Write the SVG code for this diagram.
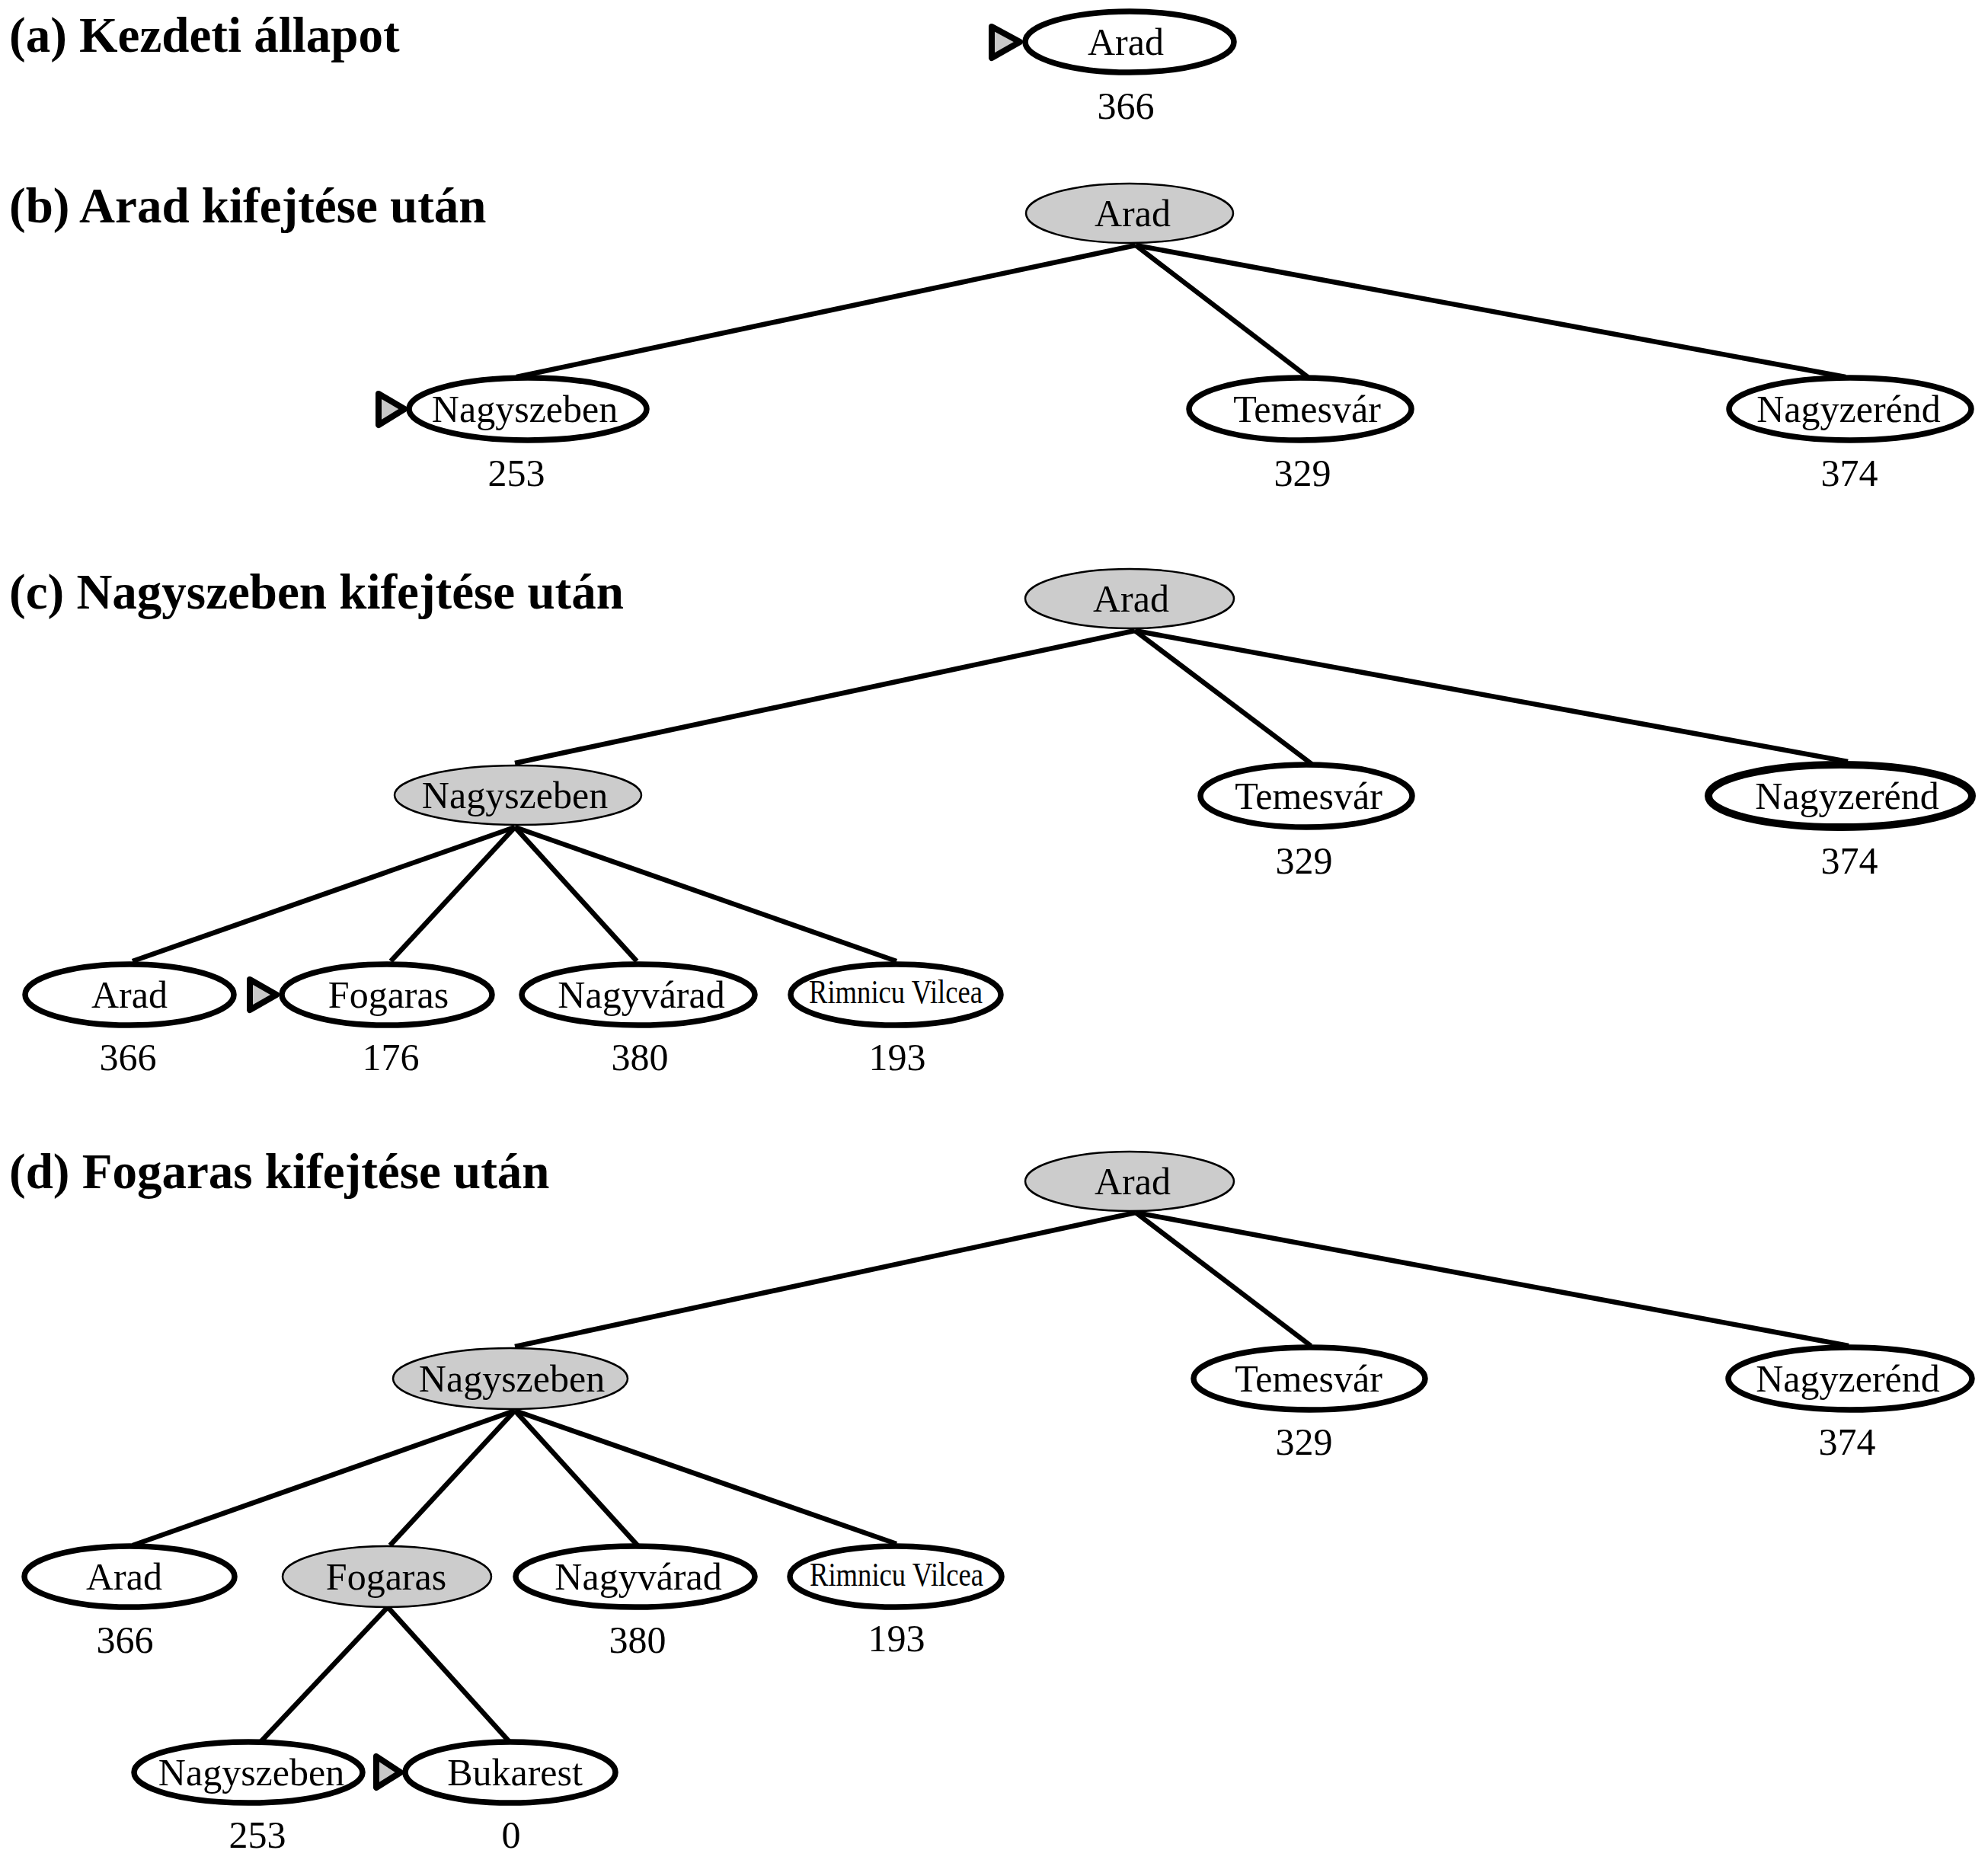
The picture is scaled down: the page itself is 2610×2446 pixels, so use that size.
<svg xmlns="http://www.w3.org/2000/svg" width="2610" height="2446" viewBox="0 0 2610 2446">
<style>
.title{font-family:"Liberation Serif","Times New Roman",serif;font-weight:bold;font-size:65px;fill:#000}
.lbl{font-family:"Liberation Serif","Times New Roman",serif;font-size:50px;fill:#000;text-anchor:middle}
.small{font-family:"Liberation Serif","Times New Roman",serif;font-size:44px;fill:#000;text-anchor:middle}
.open{fill:#fff;stroke:#000;stroke-width:7.5}
.bold{fill:#fff;stroke:#000;stroke-width:10}
.done{fill:#cccccc;stroke:#000;stroke-width:2.5}
.edge{stroke:#000;stroke-width:6.5;fill:none}
.mark{fill:#c8c8c8;stroke:#000;stroke-width:8;stroke-linejoin:round}
</style>
<rect width="2610" height="2446" fill="#fff"/>

<g id="titles">
<text class="title" x="12" y="68">(a) Kezdeti állapot</text>
<text class="title" x="12" y="292">(b) Arad kifejtése után</text>
<text class="title" x="12" y="799">(c) Nagyszeben kifejtése után</text>
<text class="title" x="12" y="1560">(d) Fogaras kifejtése után</text>
</g>

<g id="connectors">
<line class="edge" x1="1491" y1="322" x2="678" y2="495"/>
<line class="edge" x1="1491" y1="322" x2="1717" y2="495"/>
<line class="edge" x1="1491" y1="322" x2="2423" y2="495"/>

<line class="edge" x1="1490" y1="828" x2="676" y2="1002"/>
<line class="edge" x1="1490" y1="828" x2="1722" y2="1003"/>
<line class="edge" x1="1490" y1="828" x2="2426" y2="1000"/>
<line class="edge" x1="676" y1="1086" x2="174" y2="1262"/>
<line class="edge" x1="676" y1="1086" x2="513" y2="1262"/>
<line class="edge" x1="676" y1="1086" x2="836" y2="1262"/>
<line class="edge" x1="676" y1="1086" x2="1177" y2="1262"/>

<line class="edge" x1="1491" y1="1592" x2="676" y2="1768"/>
<line class="edge" x1="1491" y1="1592" x2="1721" y2="1767"/>
<line class="edge" x1="1491" y1="1592" x2="2427" y2="1767"/>
<line class="edge" x1="676" y1="1852" x2="174" y2="2029"/>
<line class="edge" x1="676" y1="1852" x2="512" y2="2029"/>
<line class="edge" x1="676" y1="1852" x2="837" y2="2029"/>
<line class="edge" x1="676" y1="1852" x2="1177" y2="2027"/>
<line class="edge" x1="509" y1="2110" x2="343" y2="2286"/>
<line class="edge" x1="509" y1="2110" x2="668" y2="2286"/>
</g>

<!-- (a) -->
<g id="a-arad">
<polygon class="mark" points="1302,35 1339,55 1302,76"/>
<ellipse class="open" cx="1483" cy="55" rx="137" ry="40"/>
<text class="lbl" x="1478" y="72">Arad</text>
<text class="lbl" x="1478" y="156">366</text>
</g>

<!-- (b) -->
<g id="b-arad">
<ellipse class="done" cx="1483" cy="280" rx="136" ry="39"/>
<text class="lbl" x="1487" y="297">Arad</text>
</g>
<g id="b-nagyszeben">
<polygon class="mark" points="497,517 531,537 497,558"/>
<ellipse class="open" cx="693" cy="537" rx="156" ry="41"/>
<text class="lbl" x="689" y="554">Nagyszeben</text>
<text class="lbl" x="678" y="638">253</text>
</g>
<g id="b-temesvar">
<ellipse class="open" cx="1707" cy="537" rx="146" ry="41"/>
<text class="lbl" x="1716" y="554">Temesvár</text>
<text class="lbl" x="1710" y="638">329</text>
</g>
<g id="b-nagyzerend">
<ellipse class="open" cx="2429" cy="537" rx="159" ry="41"/>
<text class="lbl" x="2427" y="554">Nagyzerénd</text>
<text class="lbl" x="2428" y="638">374</text>
</g>

<!-- (c) -->
<g id="c-arad">
<ellipse class="done" cx="1483" cy="786" rx="137" ry="39"/>
<text class="lbl" x="1485" y="803">Arad</text>
</g>
<g id="c-nagyszeben">
<ellipse class="done" cx="680" cy="1044" rx="162" ry="39"/>
<text class="lbl" x="676" y="1061">Nagyszeben</text>
</g>
<g id="c-temesvar">
<ellipse class="open" cx="1715" cy="1045" rx="139" ry="41"/>
<text class="lbl" x="1718" y="1062">Temesvár</text>
<text class="lbl" x="1712" y="1147">329</text>
</g>
<g id="c-nagyzerend">
<ellipse class="bold" cx="2416" cy="1045" rx="173" ry="41"/>
<text class="lbl" x="2425" y="1062">Nagyzerénd</text>
<text class="lbl" x="2428" y="1147">374</text>
</g>
<g id="c-arad2">
<ellipse class="open" cx="170" cy="1306" rx="137" ry="40"/>
<text class="lbl" x="170" y="1323">Arad</text>
<text class="lbl" x="168" y="1405">366</text>
</g>
<g id="c-fogaras">
<polygon class="mark" points="328,1286 363,1306 328,1326"/>
<ellipse class="open" cx="508" cy="1306" rx="138" ry="40"/>
<text class="lbl" x="510" y="1323">Fogaras</text>
<text class="lbl" x="513" y="1405">176</text>
</g>
<g id="c-nagyvarad">
<ellipse class="open" cx="838" cy="1306" rx="153" ry="40"/>
<text class="lbl" x="842" y="1323">Nagyvárad</text>
<text class="lbl" x="840" y="1405">380</text>
</g>
<g id="c-rimnicu">
<ellipse class="open" cx="1176" cy="1306" rx="138" ry="40"/>
<text class="small" x="1176" y="1317" textLength="228" lengthAdjust="spacingAndGlyphs">Rimnicu Vilcea</text>
<text class="lbl" x="1178" y="1405">193</text>
</g>

<!-- (d) -->
<g id="d-arad">
<ellipse class="done" cx="1483" cy="1551" rx="137" ry="39"/>
<text class="lbl" x="1487" y="1568">Arad</text>
</g>
<g id="d-nagyszeben">
<ellipse class="done" cx="670" cy="1810" rx="154" ry="40"/>
<text class="lbl" x="672" y="1827">Nagyszeben</text>
</g>
<g id="d-temesvar">
<ellipse class="open" cx="1719" cy="1810" rx="152" ry="41"/>
<text class="lbl" x="1718" y="1827">Temesvár</text>
<text class="lbl" x="1712" y="1910">329</text>
</g>
<g id="d-nagyzerend">
<ellipse class="open" cx="2429" cy="1810" rx="160" ry="41"/>
<text class="lbl" x="2426" y="1827">Nagyzerénd</text>
<text class="lbl" x="2425" y="1910">374</text>
</g>
<g id="d-arad2">
<ellipse class="open" cx="170" cy="2070" rx="138" ry="40"/>
<text class="lbl" x="163" y="2087">Arad</text>
<text class="lbl" x="164" y="2170">366</text>
</g>
<g id="d-fogaras">
<ellipse class="done" cx="508" cy="2070" rx="137" ry="40"/>
<text class="lbl" x="507" y="2087">Fogaras</text>
</g>
<g id="d-nagyvarad">
<ellipse class="open" cx="834" cy="2070" rx="157" ry="40"/>
<text class="lbl" x="838" y="2087">Nagyvárad</text>
<text class="lbl" x="837" y="2170">380</text>
</g>
<g id="d-rimnicu">
<ellipse class="open" cx="1176" cy="2070" rx="139" ry="40"/>
<text class="small" x="1177" y="2082" textLength="228" lengthAdjust="spacingAndGlyphs">Rimnicu Vilcea</text>
<text class="lbl" x="1177" y="2168">193</text>
</g>
<g id="d-nagyszeben2">
<ellipse class="open" cx="326" cy="2327" rx="150" ry="40"/>
<text class="lbl" x="330" y="2344">Nagyszeben</text>
<text class="lbl" x="338" y="2426">253</text>
</g>
<g id="d-bukarest">
<polygon class="mark" points="494,2306 526,2327 494,2347"/>
<ellipse class="open" cx="670" cy="2327" rx="138" ry="40"/>
<text class="lbl" x="676" y="2344">Bukarest</text>
<text class="lbl" x="671" y="2426">0</text>
</g>
</svg>
